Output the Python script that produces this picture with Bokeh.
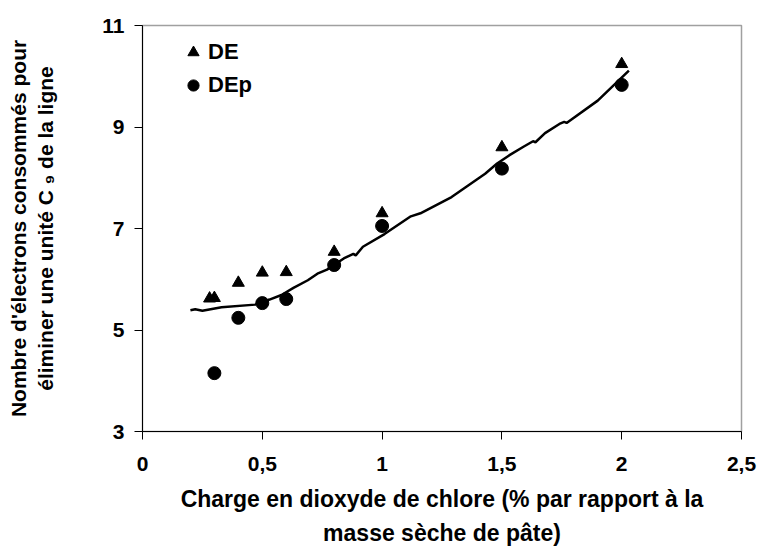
from bokeh.plotting import figure
from bokeh.models import Legend, LegendItem, FixedTicker, LinearAxis
from bokeh.embed import file_html
from bokeh.resources import INLINE

# ---- data ----
de_x = [0.28, 0.30, 0.40, 0.50, 0.60, 0.80, 1.00, 1.50, 2.00]
de_y = [5.62, 5.63, 5.93, 6.13, 6.14, 6.54, 7.30, 8.60, 10.24]

dep_x = [0.30, 0.40, 0.50, 0.60, 0.80, 1.00, 1.50, 2.00]
dep_y = [4.15, 5.24, 5.53, 5.61, 6.28, 7.05, 8.18, 9.83]

trend_x = [0.20, 0.22, 0.25, 0.33, 0.47, 0.53, 0.58, 0.63, 0.69, 0.73, 0.77,
           0.84, 0.88, 0.89, 0.92, 1.01, 1.12, 1.16, 1.29, 1.43, 1.48, 1.53,
           1.59, 1.63, 1.64, 1.68, 1.74, 1.76, 1.77, 1.90, 2.03]
trend_y = [5.39, 5.41, 5.38, 5.45, 5.50, 5.60, 5.69, 5.83, 5.98, 6.11, 6.19,
           6.41, 6.50, 6.47, 6.64, 6.89, 7.24, 7.30, 7.62, 8.08, 8.28, 8.44,
           8.61, 8.72, 8.70, 8.88, 9.06, 9.10, 9.08, 9.52, 10.11]

x_ticks = [0, 0.5, 1, 1.5, 2, 2.5]
x_tick_labels = ["0", "0,5", "1", "1,5", "2", "2,5"]
y_ticks = [3, 5, 7, 9, 11]

x_title_1 = "Charge en dioxyde de chlore (% par rapport à la"
x_title_2 = "masse sèche de pâte)"
y_title = "Nombre d'électrons consommés pour\néliminer une unité C ₉ de la ligne"

FONT = "Liberation Sans"

p = figure(width=758, height=548, x_range=(0, 2.5), y_range=(3, 11),
           output_backend="svg", toolbar_location=None,
           min_border_left=142, min_border_right=17,
           min_border_top=25, min_border_bottom=116)

p.xgrid.visible = False
p.ygrid.visible = False
p.outline_line_color = "#a0a0a0"
p.outline_line_width = 1.5
p.background_fill_color = "white"
p.border_fill_color = "white"

trend = p.line(trend_x, trend_y, line_color="black", line_width=2.5)
r_de = p.scatter(de_x, de_y, marker="triangle", size=12,
                 fill_color="black", line_color="black")
r_dep = p.scatter(dep_x, dep_y, marker="circle", size=13,
                  fill_color="black", line_color="black")

# axes
for ax in (p.xaxis[0], p.yaxis[0]):
    ax.axis_line_color = "black"
    ax.axis_line_width = 1
    ax.major_tick_line_color = "black"
    ax.major_tick_out = 8
    ax.major_tick_in = 0
    ax.minor_tick_line_color = None
    ax.major_label_text_font = FONT
    ax.major_label_text_font_style = "bold"
    ax.major_label_text_font_size = "21px"
    ax.major_label_text_color = "black"
    ax.axis_label_text_font = FONT
    ax.axis_label_text_font_style = "bold"
    ax.axis_label_text_color = "black"

p.xaxis[0].ticker = FixedTicker(ticks=x_ticks)
p.xaxis[0].major_label_overrides = {t: l for t, l in zip(x_ticks, x_tick_labels)}
p.xaxis[0].major_label_standoff = 17
p.xaxis[0].axis_label = x_title_1
p.xaxis[0].axis_label_text_font_size = "23px"
p.xaxis[0].axis_label_standoff = 12

# second line of the x title, on a blank axis below the first
x2 = LinearAxis(ticker=FixedTicker(ticks=[]), axis_line_color=None,
                major_tick_line_color=None, minor_tick_line_color=None,
                major_tick_out=0, major_label_text_font_size="0px",
                axis_label=x_title_2, axis_label_standoff=5,
                axis_label_text_font=FONT, axis_label_text_font_style="bold",
                axis_label_text_font_size="23px", axis_label_text_color="black")
p.add_layout(x2, "below")

p.yaxis[0].ticker = FixedTicker(ticks=y_ticks)
p.yaxis[0].major_label_standoff = 10
p.yaxis[0].axis_label = y_title
p.yaxis[0].axis_label_text_font_size = "21px"
p.yaxis[0].axis_label_standoff = 42

legend = Legend(items=[LegendItem(label="DE", renderers=[r_de]),
                       LegendItem(label="DEp", renderers=[r_dep])],
                location=(36, 332), orientation="vertical",
                border_line_color=None, background_fill_alpha=0,
                padding=0, margin=0, spacing=5,
                glyph_width=30, glyph_height=28, label_height=28,
                label_standoff=0,
                label_text_font=FONT, label_text_font_style="bold",
                label_text_font_size="22px", label_text_color="black")
p.add_layout(legend)

open("out.html", "w").write(file_html(p, INLINE))
